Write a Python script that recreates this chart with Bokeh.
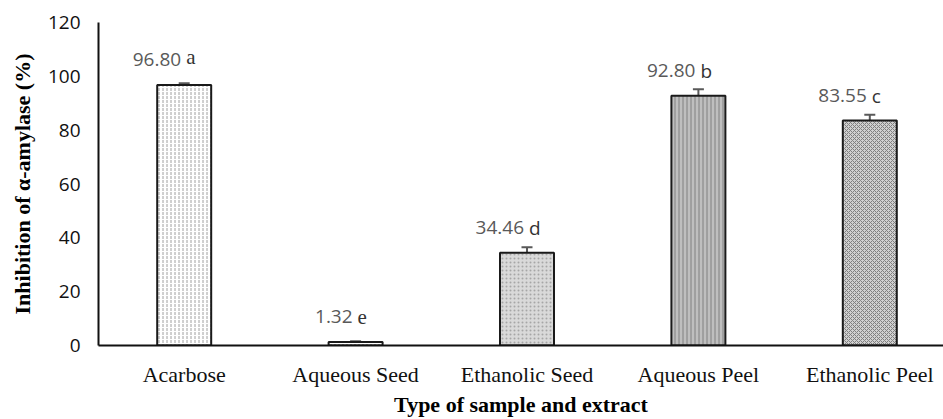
from bokeh.plotting import figure
from bokeh.models import ColumnDataSource, Range1d, FixedTicker, Whisker
from bokeh.core.properties import value
from bokeh.embed import file_html
from bokeh.resources import INLINE

categories = ["Acarbose", "Aqueous Seed", "Ethanolic Seed", "Aqueous Peel", "Ethanolic Peel"]
values = [96.80, 1.32, 34.46, 92.80, 83.55]
errors = [0.6, 0.3, 2.0, 2.4, 2.2]
letters = ["a", "e", "d", "b", "c"]
letter_fonts = ["Liberation Serif", "Liberation Serif", "Open Sans", "Open Sans", "Open Sans"]
letter_sizes = ["21px", "21px", "19px", "19px", "19px"]
letter_raise = [-28, -25, -25, -25, -25]
fills = ["#ffffff", "#ffffff", "#d9d9d9", "#bfbfbf", "#d0d0d0"]
hatches = [":", ":", ".", "|", "x"]
hatch_colors = ["#a0a0a0", "#808080", "#a6a6a6", "#7f7f7f", "#7f7f7f"]
y_ticks = [0, 20, 40, 60, 80, 100, 120]

xs = list(range(len(categories)))
src = ColumnDataSource(dict(
    x=xs, top=values, lower=[v - e for v, e in zip(values, errors)],
    upper=[v + e for v, e in zip(values, errors)],
    num=[f"{v:.2f}" for v in values], letter=letters, lfont=letter_fonts,
    lsize=letter_sizes, lraise=letter_raise,
    fill=fills, hatch=hatches, hcol=hatch_colors,
))

p = figure(width=943, height=419, output_backend="svg", toolbar_location=None,
           x_range=Range1d(-0.5, 4.43), y_range=Range1d(0, 120),
           min_border_left=98, min_border_right=0, min_border_top=22, min_border_bottom=72)
p.outline_line_color = None
p.xgrid.grid_line_color = None
p.ygrid.grid_line_color = None

p.vbar(x="x", top="top", width=0.315, source=src, fill_color="fill",
       line_color="#1a1a1a", line_width=2, hatch_pattern="hatch",
       hatch_color="hcol", hatch_scale=4, hatch_weight=1)

w = Whisker(source=src, base="x", lower="lower", upper="upper",
            line_color="#595959", line_width=2)
for head in (w.upper_head, w.lower_head):
    head.size = 11
    head.line_color = "#595959"
    head.line_width = 2
p.add_layout(w)

p.text(x="x", y="top", text="num", source=src, x_offset=-3, y_offset=-25,
       text_align="right", text_baseline="middle", text_color="#595959",
       text_font=value("Open Sans"), text_font_size="19px")
p.text(x="x", y="top", text="letter", source=src, x_offset=2, y_offset="lraise",
       text_align="left", text_baseline="middle", text_color="#333333",
       text_font="lfont", text_font_size="lsize")

p.xaxis.ticker = FixedTicker(ticks=xs)
p.xaxis.major_label_overrides = {i: c for i, c in enumerate(categories)}
p.yaxis.ticker = FixedTicker(ticks=y_ticks)
for ax in (p.xaxis, p.yaxis):
    ax.axis_line_color = "#111111"
    ax.axis_line_width = 2
    ax.major_tick_line_color = None
    ax.minor_tick_line_color = None
    ax.major_tick_out = 0
    ax.major_tick_in = 0
p.xaxis.major_label_text_font = "Liberation Serif"
p.xaxis.major_label_text_font_size = "22px"
p.xaxis.major_label_text_color = "#111111"
p.xaxis.major_label_standoff = 16
p.yaxis.major_label_text_font = "Open Sans"
p.yaxis.major_label_text_font_size = "19px"
p.yaxis.major_label_text_color = "#111111"
p.yaxis.major_label_standoff = 18
p.xaxis.axis_label = "Type of sample and extract"
p.yaxis.axis_label = "Inhibition of α-amylase (%)"
for ax in (p.xaxis, p.yaxis):
    ax.axis_label_text_font = "Liberation Serif"
    ax.axis_label_text_font_style = "bold"
    ax.axis_label_text_color = "#000000"
p.xaxis.axis_label_text_font_size = "22px"
p.yaxis.axis_label_text_font_size = "22px"
p.xaxis.axis_label_standoff = 2
p.yaxis.axis_label_standoff = 10

open("out.html", "w").write(file_html(p, INLINE))
